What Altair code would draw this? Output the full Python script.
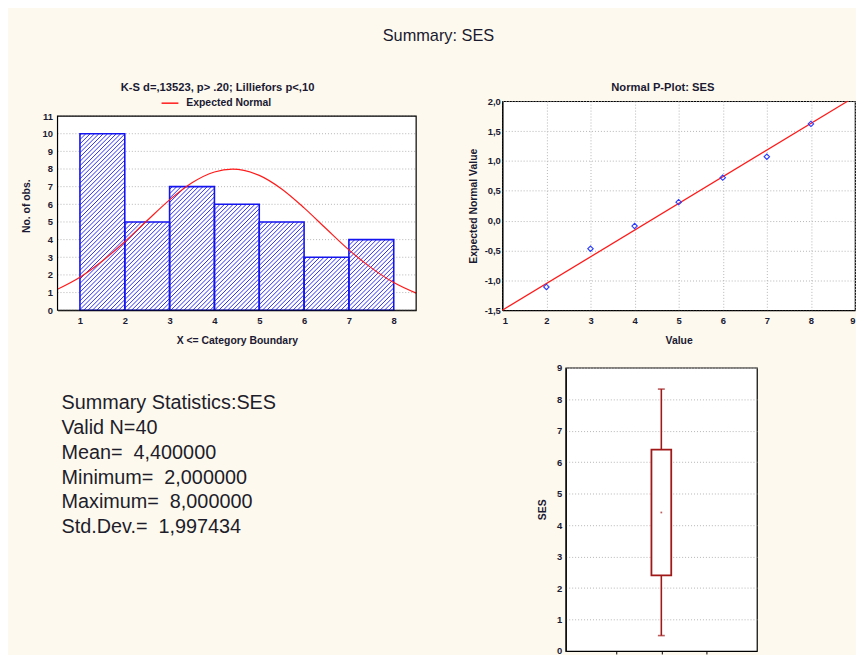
import altair as alt
import numpy as np
import pandas as pd

# ---------------- data ----------------
# histogram (X <= category boundary)
bin_start = [1, 2, 3, 4, 5, 6, 7]
bin_end = [2, 3, 4, 5, 6, 7, 8]
counts = [10, 5, 7, 6, 5, 3, 4]
hist_x_ticks = [1, 2, 3, 4, 5, 6, 7, 8]
hist_y_ticks = [0, 1, 2, 3, 4, 5, 6, 7, 8, 9, 10, 11]

# expected normal curve
curve_x = [0.5, 1.0, 1.5, 2.0, 2.5, 3.0, 3.5, 4.0, 4.4, 5.0, 5.5, 6.0, 6.5, 7.0, 7.5, 8.0, 8.5]
curve_y = [1.19, 1.87, 2.79, 3.88, 5.08, 6.25, 7.22, 7.83, 7.99, 7.64, 6.87, 5.80, 4.60, 3.42, 2.40, 1.57, 0.97]

# normal probability plot
pp_value = [2, 3, 4, 5, 6, 7, 8]
pp_expected = [-1.11, -0.47, -0.09, 0.31, 0.72, 1.07, 1.62]
fit_x = [1.0, 8.83]
fit_y = [-1.5, 2.0]
pp_x_ticks = [1, 2, 3, 4, 5, 6, 7, 8, 9]
pp_y_ticks = [-1.5, -1.0, -0.5, 0.0, 0.5, 1.0, 1.5, 2.0]

# box plot (mean, mean +/- SD, mean +/- 1.96 SD)
box_pos = [2]
box_mean = [4.4]
box_low = [2.40]
box_high = [6.40]
whisk_low = [0.49]
whisk_high = [8.32]
box_y_ticks = [0, 1, 2, 3, 4, 5, 6, 7, 8, 9]

stats_lines = [
    "Summary Statistics:SES",
    "Valid N=40",
    "Mean=\u00a0 4,400000",
    "Minimum=\u00a0 2,000000",
    "Maximum=\u00a0 8,000000",
    "Std.Dev.=\u00a0 1,997434",
]

# ---------------- styling ----------------
FONT = "Liberation Sans"
TXT = "#1a1a33"
BLUE = "#1414f0"
RED = "#ff1a1a"
DRED = "#a01818"
BG = "#FEF9EE"
GRID = "#b5b5b5"

HW, HH = 362, 196          # histogram frame size in px
VIEW_H = 211               # shared row height (P-plot height)
XD = (0.5, 8.5)
YD = (0, 11)
Y_TOP = YD[1] * VIEW_H / HH   # view extends above the frame (title / legend room)

# hatch segments derived from the bars (45 degree lines in pixel space)
sx = HW / (XD[1] - XD[0])
sy = HH / (YD[1] - YD[0])
step = 4.4
hx, hy, hx2, hy2 = [], [], [], []
for b0, b1, c in zip(bin_start, bin_end, counts):
    x0 = (b0 - XD[0]) * sx
    x1 = (b1 - XD[0]) * sx
    h = c * sy
    k0 = int(np.floor((x0 - h) / step))
    k1 = int(np.ceil(x1 / step))
    for k in range(k0, k1 + 1):
        cc = k * step
        ps = max(x0, cc)
        pe = min(x1, cc + h)
        if pe - ps > 0.3:
            hx.append(XD[0] + ps / sx)
            hy.append((ps - cc) / sy)
            hx2.append(XD[0] + pe / sx)
            hy2.append((pe - cc) / sy)
hatch_df = pd.DataFrame({"hx": hx, "hy": hy, "hx2": hx2, "hy2": hy2})

hist_df = pd.DataFrame({"b0": bin_start, "b1": bin_end, "n": counts})
curve_df = pd.DataFrame({"x": curve_x, "y": curve_y, "s": ["Expected Normal"] * len(curve_x)})
frame_df = pd.DataFrame({"x0": [XD[0]], "x1": [XD[1]], "y0": [YD[0]], "y1": [YD[1]]})
hgrid_df = pd.DataFrame({"g": hist_y_ticks, "x0": XD[0], "x1": XD[1]})


def title_axis(text, pad, tx):
    # panel heading drawn as a top axis title
    return alt.Axis(orient="top", labels=False, ticks=False, domain=False, grid=False,
                    title=text, titlePadding=pad, titleX=tx, titleAlign="center",
                    titleFontSize=11.3, titleFontWeight="bold", titleColor=TXT, titleFont=FONT)


xs = alt.Scale(domain=list(XD), nice=False, zero=False)
ys = alt.Scale(domain=[YD[0], Y_TOP], nice=False)
hx_axis = alt.Axis(values=hist_x_ticks, grid=False, title="X <= Category Boundary",
                   ticks=False, labelPadding=5, titlePadding=11, format="d", labelOverlap=False)
hy_axis = alt.Axis(values=hist_y_ticks, grid=False, domain=False, title="No. of obs.",
                   ticks=False, labelPadding=5, titlePadding=11, format="d", labelOverlap=False)

frame_bg = alt.Chart(frame_df).mark_rect(fill="white").encode(
    x=alt.X("x0:Q", scale=xs, axis=hx_axis), x2="x1:Q",
    y=alt.Y("y0:Q", scale=ys, axis=hy_axis), y2="y1:Q",
)
hgrid = alt.Chart(hgrid_df).mark_rule(color=GRID, strokeDash=[1, 2], strokeWidth=1).encode(
    x=alt.X("x0:Q", scale=xs, axis=None), x2="x1:Q", y=alt.Y("g:Q", scale=ys, axis=hy_axis)
)
bars_fill = alt.Chart(hist_df).mark_rect(fill="white").encode(
    x=alt.X("b0:Q", scale=xs, axis=None), x2="b1:Q",
    y=alt.Y("n:Q", scale=ys, axis=hy_axis), y2=alt.datum(0),
)
hatch = alt.Chart(hatch_df).mark_rule(color=BLUE, strokeWidth=0.9).encode(
    x=alt.X("hx:Q", scale=xs, axis=None), x2="hx2:Q",
    y=alt.Y("hy:Q", scale=ys, axis=hy_axis), y2="hy2:Q"
)
bars_line = alt.Chart(hist_df).mark_rect(fillOpacity=0, stroke=BLUE, strokeWidth=1.6).encode(
    x=alt.X("b0:Q", scale=xs, axis=None), x2="b1:Q",
    y=alt.Y("n:Q", scale=ys, axis=hy_axis), y2=alt.datum(0)
)
curve = alt.Chart(curve_df).mark_line(interpolate="monotone", strokeWidth=1.2).encode(
    x=alt.X("x:Q", scale=xs,
            axis=title_axis("K-S d=,13523, p> .20; Lilliefors p<,10", 9, 161)),
    y=alt.Y("y:Q", scale=ys, axis=hy_axis),
    color=alt.Color("s:N", scale=alt.Scale(domain=["Expected Normal"], range=[RED]),
                    legend=alt.Legend(title=None, orient="none", legendX=104, legendY=-7.5,
                                      symbolType="stroke", symbolSize=289, symbolStrokeWidth=1.5,
                                      labelFont=FONT, labelFontSize=10.5, labelFontWeight="bold",
                                      labelColor=TXT, padding=0, labelOffset=7)),
)
frame_line = alt.Chart(frame_df).mark_rect(fillOpacity=0, stroke="black", strokeWidth=1.2).encode(
    x=alt.X("x0:Q", scale=xs, axis=None), x2="x1:Q",
    y=alt.Y("y0:Q", scale=ys, axis=hy_axis), y2="y1:Q",
)
hist = alt.layer(frame_bg, hgrid, bars_fill, hatch, bars_line, curve, frame_line).resolve_axis(
    x="independent"
).properties(width=HW, height=VIEW_H, view=alt.ViewBackground(fillOpacity=0, strokeOpacity=0))

# ---------------- P-plot ----------------
pp_df = pd.DataFrame({"v": pp_value, "e": pp_expected})
fit_df = pd.DataFrame({"v": fit_x, "e": fit_y})
comma = "replace(replace(format(datum.value, '.1f'), '.', ','), '\u2212', '-')"
pxs = alt.Scale(domain=[1, 9], nice=False, zero=False)
pys = alt.Scale(domain=[-1.5, 2.0], nice=False, zero=False)
px_axis = alt.Axis(values=pp_x_ticks, grid=True, title="Value", ticks=False,
                   labelPadding=5, titlePadding=11, format="d", labelOverlap=False)
py_axis = alt.Axis(values=pp_y_ticks, grid=True,
                   title="Expected Normal Value", ticks=False, labelPadding=2, titlePadding=6,
                   labelExpr=comma, labelOverlap=False)
fit = alt.Chart(fit_df).mark_line(color=RED, strokeWidth=1.3).encode(
    x=alt.X("v:Q", scale=pxs, axis=px_axis), y=alt.Y("e:Q", scale=pys, axis=py_axis)
)
pts = alt.Chart(pp_df).mark_point(shape="diamond", size=30, filled=False, color="#2a3cff",
                                  strokeWidth=1.1, opacity=1).encode(
    x=alt.X("v:Q", scale=pxs, axis=title_axis("Normal P-Plot: SES", 9, 161.5)),
    y=alt.Y("e:Q", scale=pys, axis=py_axis),
)
pplot = alt.layer(fit, pts).resolve_axis(x="independent").properties(width=356, height=VIEW_H)

# ---------------- summary text ----------------
text_df = pd.DataFrame({"line": stats_lines, "i": list(range(len(stats_lines)))})
text_chart = alt.Chart(text_df).mark_text(align="left", baseline="middle", font=FONT,
                                          fontSize=20, color="#1d1d2b").encode(
    x=alt.value(4),
    y=alt.Y("i:Q", scale=alt.Scale(domain=[-1.44, 6.56], reverse=True, nice=False, zero=False),
            axis=None),
    text="line:N",
).properties(width=466.5, height=200,
             view=alt.ViewBackground(fillOpacity=0, strokeOpacity=0))

# ---------------- box plot ----------------
box_df = pd.DataFrame({"p": box_pos, "m": box_mean, "lo": box_low, "hi": box_high,
                       "wl": whisk_low, "wh": whisk_high})
bxs = alt.Scale(domain=[0, 4], nice=False, zero=False)
bys = alt.Scale(domain=[0, 9], nice=False)
bx_axis = alt.Axis(values=[1, 2, 3], labels=False, grid=False, title=None, ticks=True,
                   tickSize=3, tickColor="black")
by_axis = alt.Axis(values=box_y_ticks, grid=True, title="SES", ticks=False,
                   labelPadding=4, titlePadding=9, format="d", labelOverlap=False)
wl = alt.Chart(box_df).mark_rule(color=DRED, strokeWidth=1.6).encode(
    x=alt.X("p:Q", scale=bxs, axis=bx_axis), y=alt.Y("wl:Q", scale=bys, axis=by_axis), y2="lo:Q"
)
wh = alt.Chart(box_df).mark_rule(color=DRED, strokeWidth=1.6).encode(
    x=alt.X("p:Q", scale=bxs, axis=bx_axis), y=alt.Y("hi:Q", scale=bys, axis=by_axis), y2="wh:Q"
)
cap_l = alt.Chart(box_df).mark_tick(color=DRED, orient="horizontal", size=7, thickness=1.6).encode(
    x=alt.X("p:Q", scale=bxs, axis=bx_axis), y=alt.Y("wl:Q", scale=bys, axis=by_axis)
)
cap_h = alt.Chart(box_df).mark_tick(color=DRED, orient="horizontal", size=7, thickness=1.6).encode(
    x=alt.X("p:Q", scale=bxs, axis=bx_axis), y=alt.Y("wh:Q", scale=bys, axis=by_axis)
)
box = alt.Chart(box_df).mark_bar(size=20, fill="white", stroke=DRED, strokeWidth=1.8).encode(
    x=alt.X("p:Q", scale=bxs, axis=bx_axis), y=alt.Y("lo:Q", scale=bys, axis=by_axis), y2="hi:Q"
)
mean_pt = alt.Chart(box_df).mark_point(shape="square", size=3, filled=True, color=DRED).encode(
    x=alt.X("p:Q", scale=bxs, axis=bx_axis), y=alt.Y("m:Q", scale=bys, axis=by_axis)
)
boxplot = alt.layer(wl, wh, cap_l, cap_h, box, mean_pt).properties(width=193, height=286)

# ---------------- assemble ----------------
top = alt.concat(hist, pplot, columns=2, spacing=49, align="none", bounds="full")
bottom = alt.concat(text_chart, boxplot, columns=2, spacing=17, align="none", bounds="full")
chart = alt.concat(top, bottom, columns=1, spacing=15, align="none", bounds="full").properties(
    title=alt.TitleParams("Summary: SES", font=FONT, fontSize=16.5, fontWeight="normal",
                          color="#1a1a2e", anchor="middle", offset=37),
    background=BG,
    padding={"left": 13, "top": 16, "right": 0, "bottom": 0},
).configure_view(fill="white", stroke="black", strokeWidth=1.2).configure_axis(
    labelFont=FONT, labelFontSize=9.5, labelFontWeight="bold", labelColor=TXT,
    labelOverlap=False,
    titleFont=FONT, titleFontSize=10.5, titleFontWeight="bold", titleColor=TXT,
    domainColor="black", domainWidth=1.2, gridColor=GRID, gridDash=[1, 2], gridWidth=1,
)

chart.save("out.html", embed_options={"renderer": "svg", "actions": False})
